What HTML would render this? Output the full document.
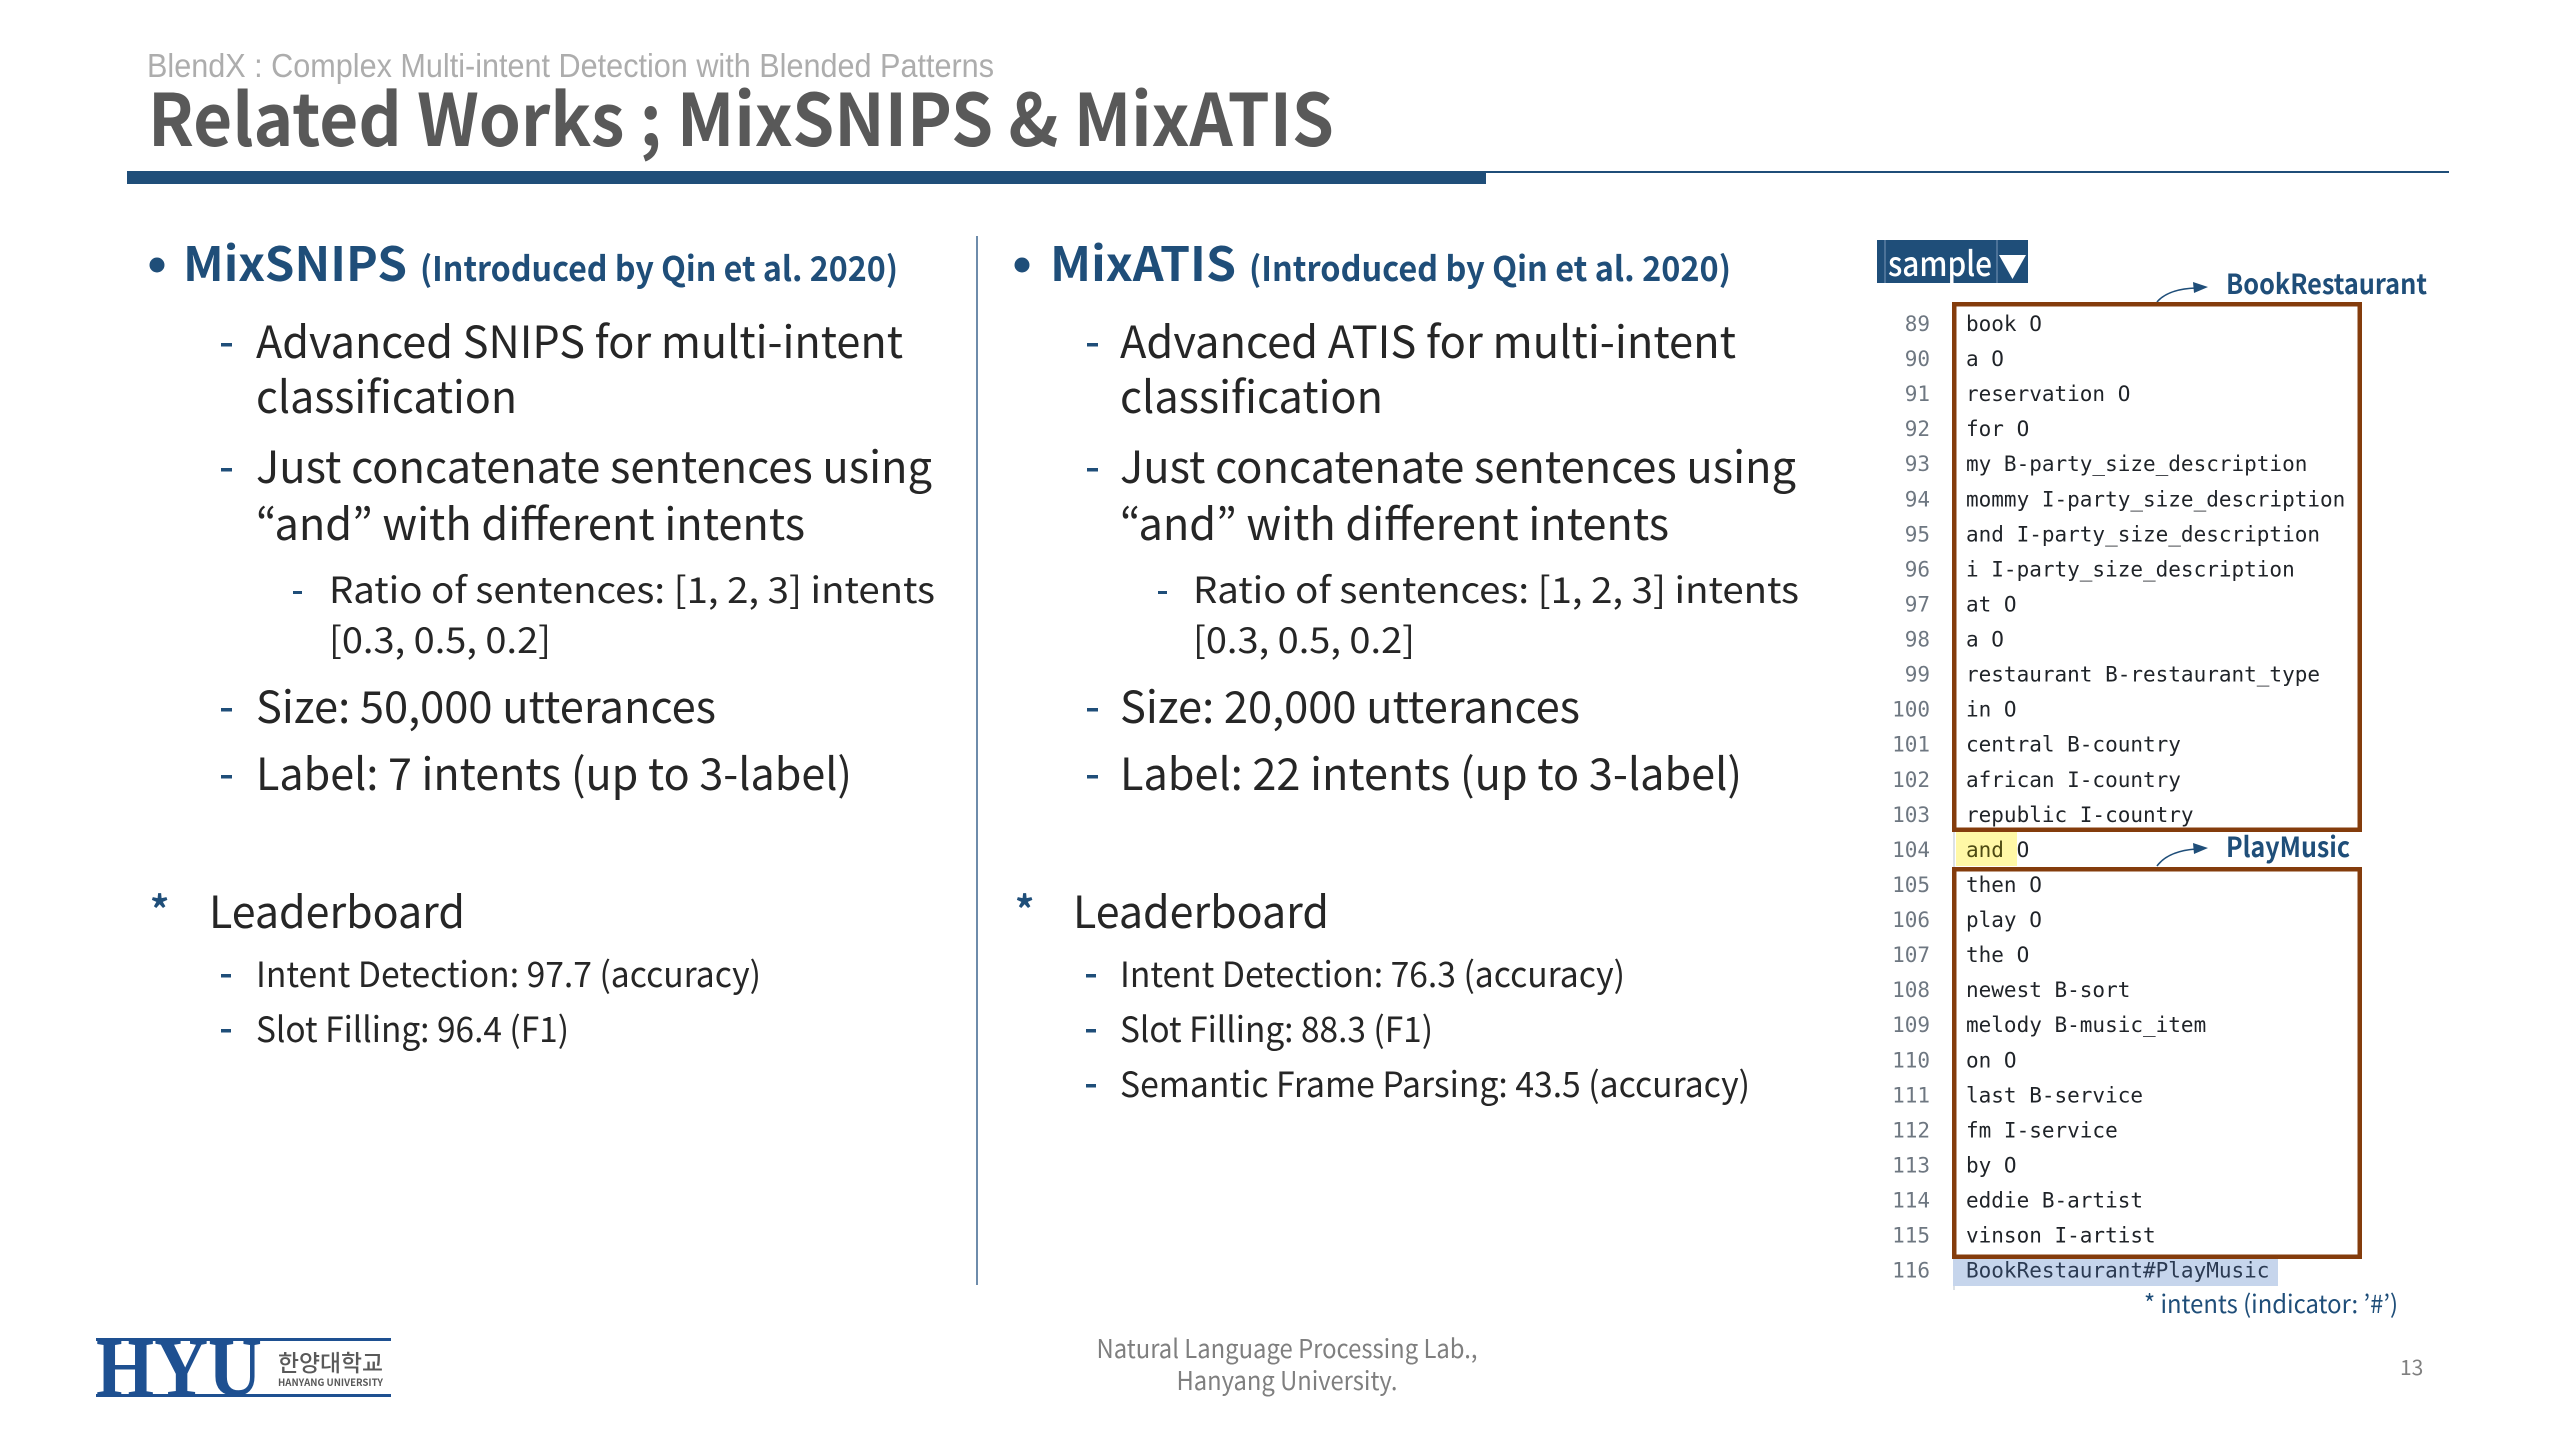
<!DOCTYPE html>
<html><head><meta charset="utf-8"><style>
html,body{margin:0;padding:0;background:#fff;}
svg{display:block;}
.s{font-family:"Noto Sans CJK KR","Liberation Sans",sans-serif;}
.b{font-family:"Noto Sans CJK KR","Liberation Sans",sans-serif;font-weight:700;}
.m{font-family:"DejaVu Sans Mono","Liberation Mono",monospace;font-size:21px;}
.t{fill:#262626;}
.n{fill:#6e7781;text-anchor:end;}
.c{fill:#1f2328;}
</style></head><body>
<svg width="2560" height="1440" viewBox="0 0 2560 1440" xmlns="http://www.w3.org/2000/svg">
<rect width="2560" height="1440" fill="#fff"/>
<!-- header -->
<text x="147" y="77" font-family="Liberation Sans, sans-serif" font-size="33" fill="#adadad" textLength="847" lengthAdjust="spacingAndGlyphs">BlendX : Complex Multi-intent Detection with Blended Patterns</text>
<text x="148" y="146" class="b" font-size="72" fill="#595959" textLength="1186" lengthAdjust="spacingAndGlyphs">Related Works ; MixSNIPS &amp; MixATIS</text>
<rect x="127" y="171" width="1359" height="13" fill="#1f4e79"/>
<rect x="1486" y="171" width="963" height="2" fill="#1f4e79"/>

<!-- divider -->
<line x1="977" y1="236" x2="977" y2="1285" stroke="#4a6f96" stroke-width="1.6"/>

<!-- LEFT COLUMN -->
<circle cx="157" cy="265" r="7.5" fill="#1f4e79"/>
<text x="183" y="281" class="b" font-size="47" fill="#1f4e79" textLength="224" lengthAdjust="spacingAndGlyphs">MixSNIPS</text>
<text x="420" y="281" class="b" font-size="34" fill="#1f4e79" textLength="478" lengthAdjust="spacingAndGlyphs">(Introduced by Qin et al. 2020)</text>

<rect x="221" y="343" width="11" height="3.5" fill="#1f4e79"/>
<text x="256" y="358" class="s t" font-size="44" textLength="647" lengthAdjust="spacingAndGlyphs">Advanced SNIPS for multi-intent</text>
<text x="256" y="413" class="s t" font-size="44" textLength="261" lengthAdjust="spacingAndGlyphs">classification</text>
<rect x="221" y="468" width="11" height="3.5" fill="#1f4e79"/>
<text x="256" y="483" class="s t" font-size="44" textLength="676" lengthAdjust="spacingAndGlyphs">Just concatenate sentences using</text>
<text x="256" y="540" class="s t" font-size="44" textLength="549" lengthAdjust="spacingAndGlyphs">“and” with different intents</text>
<rect x="293" y="591" width="9" height="3" fill="#1f4e79"/>
<text x="329" y="603" class="s t" font-size="36" textLength="606" lengthAdjust="spacingAndGlyphs">Ratio of sentences: [1, 2, 3] intents</text>
<text x="329" y="653" class="s t" font-size="36" textLength="222" lengthAdjust="spacingAndGlyphs">[0.3, 0.5, 0.2]</text>
<rect x="221" y="708" width="11" height="3.5" fill="#1f4e79"/>
<text x="256" y="723" class="s t" font-size="44" textLength="460" lengthAdjust="spacingAndGlyphs">Size: 50,000 utterances</text>
<rect x="221" y="775" width="11" height="3.5" fill="#1f4e79"/>
<text x="256" y="790" class="s t" font-size="44" textLength="596" lengthAdjust="spacingAndGlyphs">Label: 7 intents (up to 3-label)</text>

<text x="150" y="924" class="b" font-size="38" fill="#1f4e79">*</text>
<text x="209" y="928" class="s t" font-size="44" textLength="256" lengthAdjust="spacingAndGlyphs">Leaderboard</text>
<rect x="221" y="974" width="10" height="3.5" fill="#1f4e79"/>
<text x="256" y="987" class="s t" font-size="35" textLength="505" lengthAdjust="spacingAndGlyphs">Intent Detection: 97.7 (accuracy)</text>
<rect x="221" y="1029" width="10" height="3.5" fill="#1f4e79"/>
<text x="256" y="1042" class="s t" font-size="35" textLength="313" lengthAdjust="spacingAndGlyphs">Slot Filling: 96.4 (F1)</text>

<!-- MIDDLE COLUMN -->
<circle cx="1022" cy="265" r="7.5" fill="#1f4e79"/>
<text x="1050" y="281" class="b" font-size="47" fill="#1f4e79" textLength="186" lengthAdjust="spacingAndGlyphs">MixATIS</text>
<text x="1249" y="281" class="b" font-size="34" fill="#1f4e79" textLength="482" lengthAdjust="spacingAndGlyphs">(Introduced by Qin et al. 2020)</text>

<rect x="1087" y="343" width="11" height="3.5" fill="#1f4e79"/>
<text x="1120" y="358" class="s t" font-size="44" textLength="616" lengthAdjust="spacingAndGlyphs">Advanced ATIS for multi-intent</text>
<text x="1120" y="413" class="s t" font-size="44" textLength="263" lengthAdjust="spacingAndGlyphs">classification</text>
<rect x="1087" y="468" width="11" height="3.5" fill="#1f4e79"/>
<text x="1120" y="483" class="s t" font-size="44" textLength="676" lengthAdjust="spacingAndGlyphs">Just concatenate sentences using</text>
<text x="1120" y="540" class="s t" font-size="44" textLength="549" lengthAdjust="spacingAndGlyphs">“and” with different intents</text>
<rect x="1158" y="591" width="9" height="3" fill="#1f4e79"/>
<text x="1193" y="603" class="s t" font-size="36" textLength="606" lengthAdjust="spacingAndGlyphs">Ratio of sentences: [1, 2, 3] intents</text>
<text x="1193" y="653" class="s t" font-size="36" textLength="222" lengthAdjust="spacingAndGlyphs">[0.3, 0.5, 0.2]</text>
<rect x="1087" y="708" width="11" height="3.5" fill="#1f4e79"/>
<text x="1120" y="723" class="s t" font-size="44" textLength="460" lengthAdjust="spacingAndGlyphs">Size: 20,000 utterances</text>
<rect x="1087" y="775" width="11" height="3.5" fill="#1f4e79"/>
<text x="1120" y="790" class="s t" font-size="44" textLength="622" lengthAdjust="spacingAndGlyphs">Label: 22 intents (up to 3-label)</text>

<text x="1015" y="924" class="b" font-size="38" fill="#1f4e79">*</text>
<text x="1073" y="928" class="s t" font-size="44" textLength="256" lengthAdjust="spacingAndGlyphs">Leaderboard</text>
<rect x="1086" y="974" width="10" height="3.5" fill="#1f4e79"/>
<text x="1120" y="987" class="s t" font-size="35" textLength="505" lengthAdjust="spacingAndGlyphs">Intent Detection: 76.3 (accuracy)</text>
<rect x="1086" y="1029" width="10" height="3.5" fill="#1f4e79"/>
<text x="1120" y="1042" class="s t" font-size="35" textLength="313" lengthAdjust="spacingAndGlyphs">Slot Filling: 88.3 (F1)</text>
<rect x="1086" y="1084" width="10" height="3.5" fill="#1f4e79"/>
<text x="1120" y="1097" class="s t" font-size="35" textLength="630" lengthAdjust="spacingAndGlyphs">Semantic Frame Parsing: 43.5 (accuracy)</text>

<!-- RIGHT PANEL -->
<rect x="1877" y="240" width="151" height="43" fill="#1f4e79"/>
<line x1="1885" y1="240" x2="1885" y2="283" stroke="#5b7ea3" stroke-width="1.5"/>
<line x1="1997" y1="240" x2="1997" y2="283" stroke="#5b7ea3" stroke-width="1.5"/>
<text x="1888" y="276" class="s" font-weight="500" font-size="34" fill="#fff" textLength="104" lengthAdjust="spacingAndGlyphs">sample</text>
<polygon points="1999,255 2026,255 2012.5,279" fill="#fff"/>

<text x="2226" y="294" class="b" font-size="28" fill="#1f4e79" textLength="201" lengthAdjust="spacingAndGlyphs">BookRestaurant</text>
<path d="M2157 302 Q2168 289 2196 288" fill="none" stroke="#1f4e79" stroke-width="1.6"/>
<polygon points="2193,282 2208,287 2194,293" fill="#1f4e79"/>
<text x="2226" y="857" class="b" font-size="28" fill="#1f4e79" textLength="124" lengthAdjust="spacingAndGlyphs">PlayMusic</text>
<path d="M2157 866 Q2168 851 2196 849" fill="none" stroke="#1f4e79" stroke-width="1.6"/>
<polygon points="2193,843 2208,848 2194,854" fill="#1f4e79"/>

<line x1="1954" y1="304" x2="1954" y2="1290" stroke="#d0d7de" stroke-width="1.5"/>
<rect x="1956" y="830" width="61" height="36" fill="#fff8a6"/>
<rect x="1953" y="1259" width="325" height="27" fill="#c6d5ec"/>

<g class="m">
<text x="1930" y="331.0" class="n">89</text><text x="1966" y="331.0" class="c">book O</text>
<text x="1930" y="366.1" class="n">90</text><text x="1966" y="366.1" class="c">a O</text>
<text x="1930" y="401.1" class="n">91</text><text x="1966" y="401.1" class="c">reservation O</text>
<text x="1930" y="436.2" class="n">92</text><text x="1966" y="436.2" class="c">for O</text>
<text x="1930" y="471.2" class="n">93</text><text x="1966" y="471.2" class="c">my B-party_size_description</text>
<text x="1930" y="506.3" class="n">94</text><text x="1966" y="506.3" class="c">mommy I-party_size_description</text>
<text x="1930" y="541.4" class="n">95</text><text x="1966" y="541.4" class="c">and I-party_size_description</text>
<text x="1930" y="576.4" class="n">96</text><text x="1966" y="576.4" class="c">i I-party_size_description</text>
<text x="1930" y="611.5" class="n">97</text><text x="1966" y="611.5" class="c">at O</text>
<text x="1930" y="646.5" class="n">98</text><text x="1966" y="646.5" class="c">a O</text>
<text x="1930" y="681.6" class="n">99</text><text x="1966" y="681.6" class="c">restaurant B-restaurant_type</text>
<text x="1930" y="716.7" class="n">100</text><text x="1966" y="716.7" class="c">in O</text>
<text x="1930" y="751.7" class="n">101</text><text x="1966" y="751.7" class="c">central B-country</text>
<text x="1930" y="786.8" class="n">102</text><text x="1966" y="786.8" class="c">african I-country</text>
<text x="1930" y="821.8" class="n">103</text><text x="1966" y="821.8" class="c">republic I-country</text>
<text x="1930" y="856.9" class="n">104</text><text x="1966" y="856.9" fill="#4d4a12">and <tspan fill="#1f2328">O</tspan></text>
<text x="1930" y="892.0" class="n">105</text><text x="1966" y="892.0" class="c">then O</text>
<text x="1930" y="927.0" class="n">106</text><text x="1966" y="927.0" class="c">play O</text>
<text x="1930" y="962.1" class="n">107</text><text x="1966" y="962.1" class="c">the O</text>
<text x="1930" y="997.1" class="n">108</text><text x="1966" y="997.1" class="c">newest B-sort</text>
<text x="1930" y="1032.2" class="n">109</text><text x="1966" y="1032.2" class="c">melody B-music_item</text>
<text x="1930" y="1067.3" class="n">110</text><text x="1966" y="1067.3" class="c">on O</text>
<text x="1930" y="1102.3" class="n">111</text><text x="1966" y="1102.3" class="c">last B-service</text>
<text x="1930" y="1137.4" class="n">112</text><text x="1966" y="1137.4" class="c">fm I-service</text>
<text x="1930" y="1172.4" class="n">113</text><text x="1966" y="1172.4" class="c">by O</text>
<text x="1930" y="1207.5" class="n">114</text><text x="1966" y="1207.5" class="c">eddie B-artist</text>
<text x="1930" y="1242.6" class="n">115</text><text x="1966" y="1242.6" class="c">vinson I-artist</text>
<text x="1930" y="1277.6" class="n">116</text><text x="1966" y="1277.6" fill="#2b3a52">BookRestaurant#PlayMusic</text>
</g>

<rect x="1954.25" y="304.25" width="405.5" height="525.5" fill="none" stroke="#843c0c" stroke-width="4.5"/>
<rect x="1954.25" y="869.25" width="405.5" height="387.5" fill="none" stroke="#843c0c" stroke-width="4.5"/>

<text x="2398" y="1313" class="s" font-size="25" fill="#1f4e79" text-anchor="end" textLength="254" lengthAdjust="spacingAndGlyphs">* intents (indicator: ’#’)</text>

<!-- FOOTER -->
<rect x="96" y="1338" width="295" height="3" fill="#1e5091"/>
<rect x="96" y="1394" width="295" height="3" fill="#1e5091"/>
<text x="96" y="1395" font-family="Liberation Serif, serif" font-weight="700" font-size="83" fill="#1e5091" textLength="166" lengthAdjust="spacingAndGlyphs">HYU</text>
<text x="278" y="1371" font-family="Noto Sans CJK KR, sans-serif" font-weight="500" font-size="23" fill="#595959" textLength="105" lengthAdjust="spacingAndGlyphs">한양대학교</text>
<text x="278" y="1386" font-family="Noto Sans CJK KR, sans-serif" font-weight="700" font-size="10" fill="#595959" textLength="105" lengthAdjust="spacingAndGlyphs">HANYANG UNIVERSITY</text>

<text x="1287" y="1358" class="s" font-size="26" fill="#7f7f7f" text-anchor="middle" textLength="381" lengthAdjust="spacingAndGlyphs">Natural Language Processing Lab.,</text>
<text x="1287" y="1390" class="s" font-size="26" fill="#7f7f7f" text-anchor="middle" textLength="221" lengthAdjust="spacingAndGlyphs">Hanyang University.</text>
<text x="2400" y="1375" class="s" font-size="21" fill="#7f7f7f">13</text>
</svg>
</body></html>
